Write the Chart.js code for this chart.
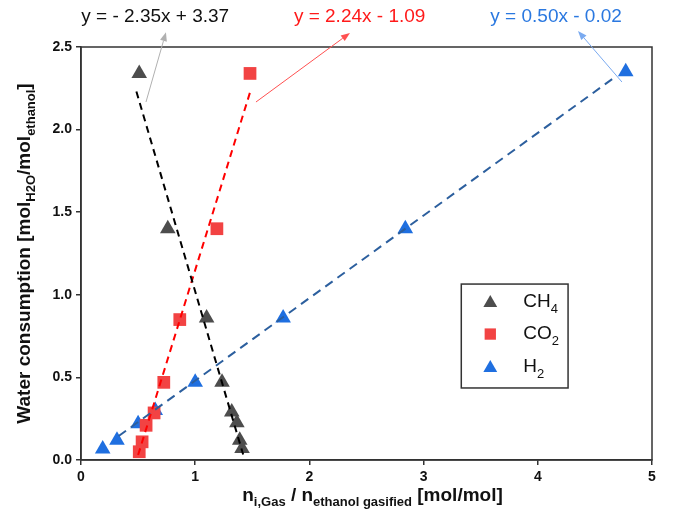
<!DOCTYPE html>
<html>
<head>
<meta charset="utf-8">
<script src="https://cdn.jsdelivr.net/npm/chart.js@4.4.1/dist/chart.umd.min.js"></script>
<style>
html,body{margin:0;padding:0;background:#fff;}
#wrap{width:679px;height:523px;position:relative;}
</style>
</head>
<body>
<div id="wrap"><canvas id="c" width="679" height="523"></canvas></div>
<script>
// ---- data ----
const ch4X = [0.51, 0.76, 1.10, 1.235, 1.32, 1.365, 1.39, 1.41];
const ch4Y = [2.34, 1.40, 0.86, 0.47, 0.29, 0.225, 0.12, 0.07];
const co2X = [1.48, 1.19, 0.865, 0.725, 0.64, 0.57, 0.535, 0.51];
const co2Y = [2.34, 1.40, 0.85, 0.47, 0.285, 0.21, 0.11, 0.05];
const h2X = [0.19, 0.315, 0.50, 0.65, 1.00, 1.77, 2.84, 4.77];
const h2Y = [0.067, 0.12, 0.22, 0.30, 0.47, 0.86, 1.40, 2.35];
// linear fits (slope, intercept) and the x-range over which they are drawn
const fitCH4 = {m: -2.35, b: 3.37, x0: 0.485, x1: 1.42};
const fitCO2 = {m: 2.24, b: -1.09, x0: 0.50, x1: 1.482};
const fitH2 = {m: 0.50, b: -0.02, x0: 0.33, x1: 4.68};
const eqTexts = ["y = - 2.35x + 3.37", "y = 2.24x - 1.09", "y = 0.50x - 0.02"];
const xTicks = [0, 1, 2, 3, 4, 5];
const yTicks = [0.0, 0.5, 1.0, 1.5, 2.0, 2.5];

const FONT = '"Liberation Sans", Arial, Helvetica, sans-serif';
const C_CH4 = '#4d4d4d', C_CO2 = '#f24343', C_H2 = '#1f6fe0';

function pts(xs, ys){ return xs.map((x,i)=>({x:x, y:ys[i]})); }
function fitPts(f){ return [{x:f.x0, y:f.m*f.x0+f.b}, {x:f.x1, y:f.m*f.x1+f.b}]; }

// annotation placement (in data coordinates)
const annotations = [
  {text: eqTexts[0], color:'#111', tx:0.65, ty:2.685, ax0:0.569, ay0:2.167, ax1:0.744, ay1:2.59, arrow:'#b0b0b0'},
  {text: eqTexts[1], color:'#ff1a1a', tx:2.44, ty:2.685, ax0:1.532, ay0:2.167, ax1:2.355, ay1:2.585, arrow:'#ff5050'},
  {text: eqTexts[2], color:'#2a78e0', tx:4.16, ty:2.685, ax0:4.737, ay0:2.288, ax1:4.352, ay1:2.597, arrow:'#7aaaf0'}
];

function drawRuns(ctx, runs, x, y, mainSize, subSize, subDy){
  let total = 0;
  const widths = runs.map(r=>{
    ctx.font = 'bold ' + (r.sub?subSize:mainSize) + 'px ' + FONT;
    const w = ctx.measureText(r.t).width; total += w; return w;
  });
  let cx = x - total/2;
  runs.forEach((r,i)=>{
    ctx.font = 'bold ' + (r.sub?subSize:mainSize) + 'px ' + FONT;
    ctx.fillText(r.t, cx, y + (r.sub?subDy:0));
    cx += widths[i];
  });
}

function drawMarker(ctx, style, color, x, y, r){
  ctx.save();
  ctx.fillStyle = color;
  ctx.beginPath();
  if(style==='triangle'){
    ctx.moveTo(x, y - r);
    ctx.lineTo(x + r*Math.sin(2*Math.PI/3), y - r*Math.cos(2*Math.PI/3));
    ctx.lineTo(x + r*Math.sin(4*Math.PI/3), y - r*Math.cos(4*Math.PI/3));
    ctx.closePath();
  } else {
    const s = r*Math.SQRT1_2;
    ctx.rect(x-s, y-s, 2*s, 2*s);
  }
  ctx.fill();
  ctx.restore();
}

const decor = {
  id:'decor',
  afterDraw(chart){
    const ctx = chart.ctx, xs = chart.scales.x, ys = chart.scales.y, a = chart.chartArea;
    ctx.save();
    // frame
    ctx.strokeStyle = '#333'; ctx.lineWidth = 1.5;
    ctx.strokeRect(a.left, a.top, a.right-a.left, a.bottom-a.top);
    // annotations
    ctx.textBaseline = 'middle'; ctx.textAlign = 'center';
    annotations.forEach(an=>{
      ctx.font = '19px ' + FONT;
      ctx.fillStyle = an.color;
      ctx.fillText(an.text, xs.getPixelForValue(an.tx), ys.getPixelForValue(an.ty));
      const x0 = xs.getPixelForValue(an.ax0), y0 = ys.getPixelForValue(an.ay0);
      const x1 = xs.getPixelForValue(an.ax1), y1 = ys.getPixelForValue(an.ay1);
      const ang = Math.atan2(y1-y0, x1-x0);
      const hl = 9, hw = 3.5;
      ctx.strokeStyle = an.arrow; ctx.lineWidth = 1;
      ctx.beginPath(); ctx.moveTo(x0,y0);
      ctx.lineTo(x1 - Math.cos(ang)*hl, y1 - Math.sin(ang)*hl); ctx.stroke();
      ctx.fillStyle = an.arrow;
      ctx.beginPath();
      ctx.moveTo(x1, y1);
      ctx.lineTo(x1 - Math.cos(ang)*hl - Math.sin(ang)*hw, y1 - Math.sin(ang)*hl + Math.cos(ang)*hw);
      ctx.lineTo(x1 - Math.cos(ang)*hl + Math.sin(ang)*hw, y1 - Math.sin(ang)*hl - Math.cos(ang)*hw);
      ctx.closePath(); ctx.fill();
    });
    // axis titles
    ctx.fillStyle = '#111'; ctx.textAlign = 'left'; ctx.textBaseline = 'middle';
    drawRuns(ctx, [
      {t:'n'},{t:'i,Gas',sub:true},{t:' / n'},{t:'ethanol gasified',sub:true},{t:' [mol/mol]'}
    ], (a.left+a.right)/2 + 6, 496, 19, 13, 6);
    ctx.save();
    ctx.translate(25, (a.top+a.bottom)/2);
    ctx.rotate(-Math.PI/2);
    drawRuns(ctx, [
      {t:'Water consumption [mol'},{t:'H2O',sub:true},{t:'/mol'},{t:'ethanol',sub:true},{t:']'}
    ], 0, 0, 19, 13, 6);
    ctx.restore();
    // legend
    const lx0 = xs.getPixelForValue(3.33), ly0 = ys.getPixelForValue(1.065);
    const lx1 = xs.getPixelForValue(4.265), ly1 = ys.getPixelForValue(0.436);
    ctx.strokeStyle = '#333'; ctx.lineWidth = 1.5;
    ctx.strokeRect(lx0, ly0, lx1-lx0, ly1-ly0);
    const items = [
      {style:'triangle', color:C_CH4, runs:[{t:'CH'},{t:'4',sub:true}], r:8},
      {style:'rect', color:C_CO2, runs:[{t:'CO'},{t:'2',sub:true}], r:8},
      {style:'triangle', color:C_H2, runs:[{t:'H'},{t:'2',sub:true}], r:8}
    ];
    const rowY = [302, 334, 367].map(p=>p - 284 + ly0);
    items.forEach((it,i)=>{
      drawMarker(ctx, it.style, it.color, lx0 + 29, rowY[i] + (it.style==='triangle'?1:0), it.r);
      let cx = lx0 + 62;
      it.runs.forEach(r=>{
        ctx.font = (r.sub?'13px ':'19px ') + FONT;
        ctx.fillStyle = '#111';
        ctx.fillText(r.t, cx, rowY[i] + (r.sub?7:0));
        cx += ctx.measureText(r.t).width;
      });
    });
    ctx.restore();
  }
};

new Chart(document.getElementById('c'), {
  type:'scatter',
  data:{
    datasets:[
      {label:'CH4 fit', type:'line', data:fitPts(fitCH4), borderColor:'#000', borderWidth:2, borderDash:[7,5], pointRadius:0, fill:false},
      {label:'CO2 fit', type:'line', data:fitPts(fitCO2), borderColor:'#ff0000', borderWidth:2, borderDash:[7,5], pointRadius:0, fill:false},
      {label:'H2 fit', type:'line', data:fitPts(fitH2), borderColor:'#2c5f9e', borderWidth:2, borderDash:[9,6], pointRadius:0, fill:false},
      {label:'CH4', data:pts(ch4X,ch4Y), pointStyle:'triangle', pointRadius:9, backgroundColor:C_CH4, borderColor:C_CH4, borderWidth:0},
      {label:'CO2', data:pts(co2X,co2Y), pointStyle:'rect', pointRadius:9, backgroundColor:C_CO2, borderColor:C_CO2, borderWidth:0},
      {label:'H2', data:pts(h2X,h2Y), pointStyle:'triangle', pointRadius:9, backgroundColor:C_H2, borderColor:C_H2, borderWidth:0}
    ]
  },
  options:{
    responsive:false, animation:false, devicePixelRatio:1,
    layout:{padding:{top:47, right:27, left:0, bottom:0}},
    plugins:{legend:{display:false}, tooltip:{enabled:false}, title:{display:false}},
    scales:{
      x:{type:'linear', min:0, max:5,
        afterBuildTicks(s){ s.ticks = xTicks.map(v=>({value:v})); },
        afterFit(s){ s.height = 63; },
        ticks:{callback:v=>String(v), color:'#111', font:{family:FONT, size:14, weight:'bold'}, padding:4, maxRotation:0},
        grid:{drawOnChartArea:false, drawTicks:true, tickLength:5, color:'#333', lineWidth:1.5},
        border:{display:true, color:'#333', width:1.5}
      },
      y:{type:'linear', min:0, max:2.5,
        afterBuildTicks(s){ s.ticks = yTicks.map(v=>({value:v})); },
        afterFit(s){ s.width = 81; },
        ticks:{callback:v=>Number(v).toFixed(1), color:'#111', font:{family:FONT, size:14, weight:'bold'}, padding:4},
        grid:{drawOnChartArea:false, drawTicks:true, tickLength:5, color:'#333', lineWidth:1.5},
        border:{display:true, color:'#333', width:1.5}
      }
    }
  },
  plugins:[decor]
});
</script>
</body>
</html>
